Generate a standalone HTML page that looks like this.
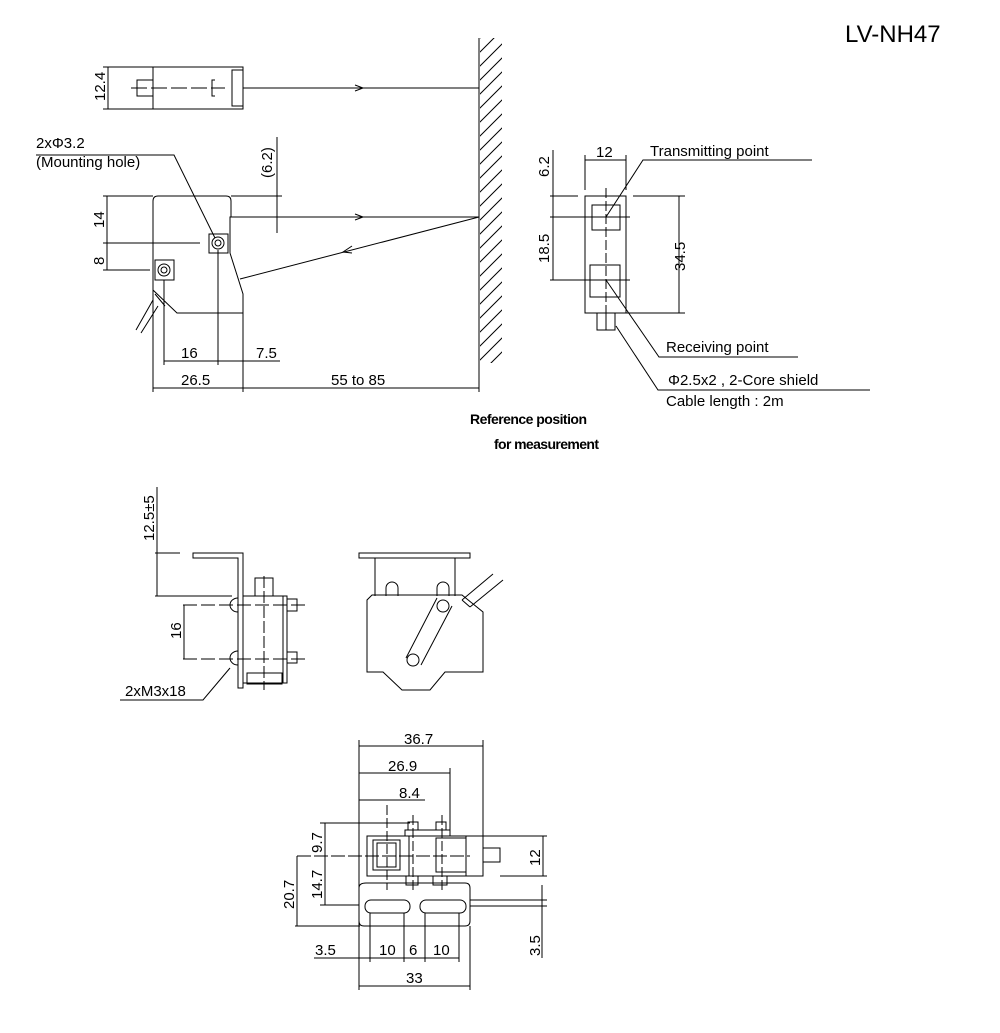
<!DOCTYPE html>
<html><head><style>body{margin:0;background:#fff}svg{display:block}text{font-family:"Liberation Sans",sans-serif;fill:#000}</style></head>
<body>
<svg width="1000" height="1033" viewBox="0 0 1000 1033" xmlns="http://www.w3.org/2000/svg" fill="none" stroke="#000" stroke-width="1">
<defs><pattern id="h" width="14" height="14" patternUnits="userSpaceOnUse"><path d="M0 14L14 0M-7 7L7 -7M7 21L21 7" stroke="#000"/></pattern></defs>
<text x="845" y="42" font-size="24" stroke="none">LV-NH47</text>
<!-- wall -->
<line x1="479" y1="38" x2="479" y2="392"/>
<rect x="480" y="38" width="22" height="325" fill="url(#h)" stroke="none"/>
<!-- top view -->
<rect x="153" y="67" width="90" height="42"/>
<rect x="232" y="70" width="11" height="36"/>
<path d="M153 80H137V96H153"/>
<path d="M131 88H225" stroke-dasharray="16,4"/>
<path d="M215 80h-3v16h3"/>
<line x1="243" y1="88" x2="479" y2="88"/>
<path d="M355 85l8 3-8 3"/>
<line x1="103" y1="67" x2="153" y2="67"/><line x1="103" y1="109" x2="153" y2="109"/>
<line x1="108" y1="67" x2="108" y2="109"/>
<text x="0" y="0" font-size="15" stroke="none" transform="translate(105,101) rotate(-90)">12.4</text>
<!-- side view -->
<path d="M158 196H226Q231 196 231 201V217H230V253L243 294V313H177L153 290V201Q153 196 158 196Z"/>
<line x1="230" y1="217" x2="479" y2="217"/>
<path d="M355 214l8 3-8 3"/>
<line x1="479" y1="217" x2="240" y2="279"/>
<path d="M352 246l-9 6 9 1"/>
<circle cx="218" cy="243" r="6"/><circle cx="218" cy="243" r="3"/><rect x="209" y="234" width="19" height="19"/>
<circle cx="164" cy="270" r="6"/><circle cx="164" cy="270" r="3"/><rect x="155" y="260" width="19" height="20"/>
<path d="M153 300L136 330M158 306L141 333M155 294l10 12"/>
<line x1="103" y1="196" x2="153" y2="196"/><line x1="103" y1="243" x2="200" y2="243"/><line x1="103" y1="270" x2="150" y2="270"/>
<line x1="107" y1="196" x2="107" y2="270"/>
<text font-size="15" stroke="none" transform="translate(104,228) rotate(-90)">14</text>
<text font-size="15" stroke="none" transform="translate(104,265) rotate(-90)">8</text>
<line x1="231" y1="196" x2="282" y2="196"/>
<line x1="277" y1="137" x2="277" y2="233"/>
<text font-size="15" stroke="none" transform="translate(272,178) rotate(-90)">(6.2)</text>
<text x="36" y="148" font-size="15" stroke="none">2xΦ3.2</text>
<text x="36" y="167" font-size="15" stroke="none">(Mounting hole)</text>
<path d="M36 155H174L215 238"/>
<line x1="153" y1="290" x2="153" y2="392"/><line x1="164" y1="280" x2="164" y2="365"/>
<line x1="218" y1="250" x2="218" y2="365"/><line x1="243" y1="313" x2="243" y2="392"/>
<line x1="164" y1="361" x2="280" y2="361"/>
<line x1="153" y1="388" x2="479" y2="388"/>
<text x="181" y="358" font-size="15" stroke="none">16</text>
<text x="256" y="358" font-size="15" stroke="none">7.5</text>
<text x="181" y="385" font-size="15" stroke="none">26.5</text>
<text x="331" y="385" font-size="15" stroke="none">55 to 85</text>
<text x="470" y="424" font-size="14" font-weight="bold" stroke="none" textLength="117">Reference position</text>
<text x="494" y="449" font-size="14" font-weight="bold" stroke="none" textLength="105">for measurement</text>
<!-- right view -->
<rect x="585" y="196" width="41" height="117"/>
<rect x="592" y="205" width="28" height="25"/><rect x="590" y="265" width="30" height="32"/>
<line x1="606" y1="188" x2="606" y2="313" stroke-dasharray="10,3"/>
<path d="M597 313v17h18v-17M606 313v17"/>
<line x1="550" y1="196" x2="578" y2="196"/><line x1="633" y1="196" x2="685" y2="196"/>
<line x1="550" y1="217" x2="578" y2="217"/><line x1="578" y1="217" x2="630" y2="217"/>
<line x1="550" y1="280" x2="578" y2="280"/><line x1="578" y1="280" x2="630" y2="280"/>
<line x1="626" y1="313" x2="685" y2="313"/>
<line x1="553" y1="150" x2="553" y2="280"/>
<line x1="679" y1="196" x2="679" y2="313"/>
<line x1="585" y1="155" x2="585" y2="190"/><line x1="626" y1="155" x2="626" y2="190"/>
<line x1="585" y1="160" x2="626" y2="160"/>
<text x="596" y="157" font-size="15" stroke="none">12</text>
<text font-size="15" stroke="none" transform="translate(549,177) rotate(-90)">6.2</text>
<text font-size="15" stroke="none" transform="translate(549,263) rotate(-90)">18.5</text>
<text font-size="15" stroke="none" transform="translate(685,271) rotate(-90)">34.5</text>
<text x="650" y="156" font-size="15" stroke="none">Transmitting point</text>
<path d="M812 160H643L606 217"/>
<text x="666" y="352" font-size="15" stroke="none">Receiving point</text>
<path d="M798 357H659L606 280"/>
<text x="668" y="385" font-size="15" stroke="none">Φ2.5x2 , 2-Core shield</text>
<path d="M870 390H658L616 326"/>
<text x="666" y="406" font-size="15" stroke="none">Cable length : 2m</text>
<!-- bracket left -->
<line x1="157" y1="487" x2="157" y2="596"/>
<text font-size="15" stroke="none" transform="translate(154,541) rotate(-90)">12.5±5</text>
<line x1="155" y1="553" x2="180" y2="553"/>
<path d="M193 553H243V688H238V558H193Z"/>
<line x1="155" y1="596" x2="232" y2="596"/>
<rect x="243" y="596" width="40" height="87"/><rect x="283" y="596" width="4" height="87"/>
<rect x="255" y="578" width="18" height="18"/>
<rect x="247" y="673" width="35" height="11"/>
<rect x="287" y="599" width="10" height="12"/><rect x="287" y="652" width="10" height="11"/>
<path d="M238 598a8 7 0 0 0 0 14M238 651a8 7 0 0 0 0 14"/>
<line x1="183" y1="605" x2="305" y2="605" stroke-dasharray="14,4"/>
<line x1="183" y1="659" x2="305" y2="659" stroke-dasharray="14,4"/>
<line x1="264" y1="576" x2="264" y2="690" stroke-dasharray="12,3"/>
<line x1="184" y1="605" x2="184" y2="659"/>
<text font-size="15" stroke="none" transform="translate(181,639) rotate(-90)">16</text>
<text x="125" y="696" font-size="15" stroke="none">2xM3x18</text>
<path d="M120 700H203L230 668"/>
<!-- bracket middle -->
<path d="M359 553H470V558H359Z"/>
<line x1="375" y1="558" x2="375" y2="596"/><line x1="455" y1="558" x2="455" y2="596"/>
<path d="M386 596v-8a6 6 0 0 1 12 0v8M437 596v-8a6 6 0 0 1 12 0v8"/>
<path d="M372 595H462L483 612V672H445L430 690H402L383 672H367V600Z"/>
<path d="M437 598L406 658M452 606L421 665"/>
<circle cx="443" cy="606" r="6"/><circle cx="413" cy="660" r="6"/>
<path d="M462 600L493 574M470 607L503 580M462 600l8 7"/>
<!-- bottom view -->
<line x1="359" y1="740" x2="359" y2="990"/><line x1="483" y1="740" x2="483" y2="836"/>
<line x1="450" y1="768" x2="450" y2="836"/>
<line x1="359" y1="746" x2="483" y2="746"/><line x1="359" y1="773" x2="450" y2="773"/><line x1="359" y1="800" x2="425" y2="800"/>
<text x="404" y="744" font-size="15" stroke="none">36.7</text>
<text x="388" y="771" font-size="15" stroke="none">26.9</text>
<text x="399" y="798" font-size="15" stroke="none">8.4</text>
<rect x="367" y="836" width="116" height="40"/>
<rect x="373" y="840" width="27" height="30"/><rect x="377" y="843" width="19" height="24"/>
<rect x="436" y="838" width="30" height="34"/>
<line x1="409" y1="836" x2="409" y2="876"/><line x1="466" y1="836" x2="466" y2="876"/>
<rect x="405" y="830" width="45" height="6"/>
<rect x="408" y="822" width="10" height="8"/><rect x="436" y="822" width="10" height="8"/>
<path d="M366 883H465Q470 883 470 888V921Q470 926 465 926H364Q359 926 359 921V888Q359 883 366 883Z"/>
<rect x="406" y="876" width="12" height="9"/><rect x="433" y="876" width="14" height="9"/>
<rect x="365" y="900" width="45" height="13" rx="6"/><rect x="420" y="900" width="46" height="13" rx="6"/>
<path d="M483 848H500V862H483"/>
<line x1="387" y1="805" x2="387" y2="890" stroke-dasharray="10,3"/>
<line x1="413" y1="815" x2="413" y2="890" stroke-dasharray="10,3"/>
<line x1="442" y1="815" x2="442" y2="890" stroke-dasharray="10,3"/>
<line x1="297" y1="856" x2="470" y2="856" stroke-dasharray="14,3"/>
<line x1="320" y1="823" x2="410" y2="823"/>
<line x1="320" y1="905" x2="359" y2="905"/><line x1="470" y1="906" x2="547" y2="906"/>
<line x1="295" y1="926" x2="360" y2="926"/>
<line x1="483" y1="836" x2="547" y2="836"/><line x1="500" y1="876" x2="547" y2="876"/>
<line x1="470" y1="900" x2="547" y2="900"/>
<line x1="325" y1="823" x2="325" y2="905"/><line x1="297" y1="856" x2="297" y2="926"/>
<line x1="543" y1="836" x2="543" y2="876"/><line x1="542" y1="885" x2="542" y2="958"/>
<text font-size="15" stroke="none" transform="translate(322,853) rotate(-90)">9.7</text>
<text font-size="15" stroke="none" transform="translate(322,899) rotate(-90)">14.7</text>
<text font-size="15" stroke="none" transform="translate(294,909) rotate(-90)">20.7</text>
<text font-size="15" stroke="none" transform="translate(540,866) rotate(-90)">12</text>
<text font-size="15" stroke="none" transform="translate(540,956) rotate(-90)">3.5</text>
<line x1="370" y1="913" x2="370" y2="962"/><line x1="404" y1="913" x2="404" y2="962"/>
<line x1="425" y1="913" x2="425" y2="962"/><line x1="459" y1="913" x2="459" y2="962"/>
<line x1="470" y1="926" x2="470" y2="990"/>
<line x1="314" y1="958" x2="459" y2="958"/>
<line x1="359" y1="986" x2="470" y2="986"/>
<text x="315" y="955" font-size="15" stroke="none">3.5</text>
<text x="379" y="955" font-size="15" stroke="none">10</text>
<text x="409" y="955" font-size="15" stroke="none">6</text>
<text x="433" y="955" font-size="15" stroke="none">10</text>
<text x="406" y="983" font-size="15" stroke="none">33</text>
</svg>
</body></html>
